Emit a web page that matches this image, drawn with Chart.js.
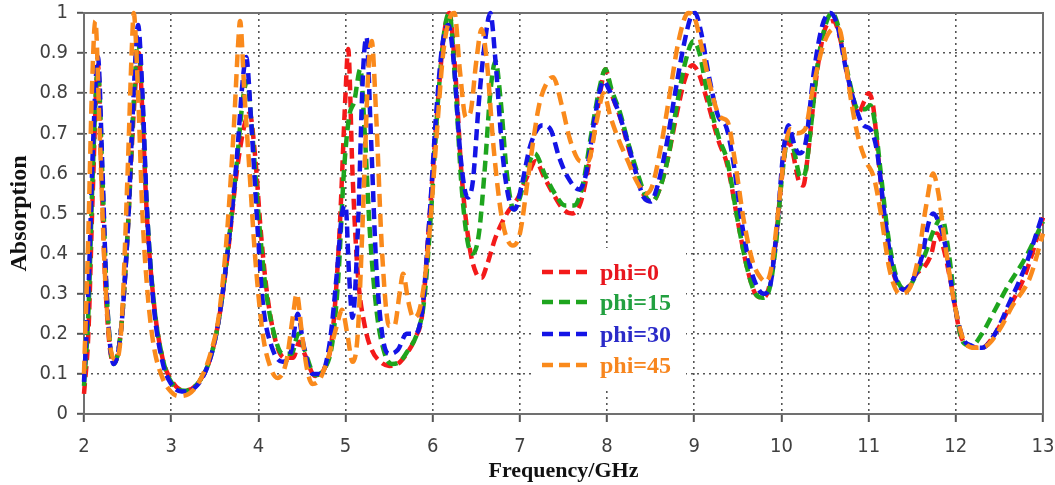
<!DOCTYPE html>
<html>
<head>
<meta charset="utf-8">
<script src="https://cdn.jsdelivr.net/npm/chart.js@4.4.1/dist/chart.umd.min.js"></script>
<style>
  html, body { margin: 0; padding: 0; background: #ffffff; }
  canvas { display: block; }
</style>
</head>
<body>
<canvas id="absorptionChart" width="1055" height="485"></canvas>
<script>
// Absorption spectra for four polarization angles
const seriesLabels = ['phi=0', 'phi=15', 'phi=30', 'phi=45'];

const freqPhi0 = [2.00,2.05,2.10,2.16,2.20,2.25,2.34,2.42,2.50,2.57,2.63,2.67,2.72,2.80,2.90,3.00,3.15,3.30,3.45,3.55,3.65,3.75,3.84,3.90,3.96,4.03,4.10,4.20,4.30,4.40,4.47,4.53,4.65,4.75,4.85,4.93,5.00,5.03,5.08,5.14,5.22,5.30,5.40,5.50,5.60,5.70,5.80,5.88,5.95,6.05,6.12,6.19,6.26,6.33,6.42,6.50,6.56,6.62,6.72,6.85,6.98,7.10,7.18,7.28,7.38,7.50,7.60,7.70,7.82,7.92,7.98,8.05,8.15,8.25,8.35,8.45,8.52,8.60,8.70,8.80,8.90,8.98,9.05,9.15,9.28,9.38,9.50,9.60,9.70,9.78,9.85,9.93,10.00,10.07,10.12,10.20,10.25,10.30,10.40,10.50,10.60,10.68,10.78,10.88,10.95,11.00,11.05,11.12,11.20,11.30,11.42,11.55,11.65,11.72,11.78,11.85,11.95,12.05,12.15,12.30,12.45,12.60,12.80,13.00];
const absPhi0 = [0.05,0.20,0.55,0.87,0.60,0.30,0.125,0.20,0.45,0.75,0.90,0.75,0.50,0.28,0.14,0.085,0.058,0.075,0.14,0.24,0.40,0.60,0.72,0.75,0.65,0.45,0.30,0.18,0.14,0.14,0.18,0.15,0.095,0.11,0.20,0.45,0.80,0.91,0.60,0.35,0.22,0.16,0.13,0.12,0.125,0.15,0.19,0.25,0.45,0.75,0.93,1.00,0.85,0.60,0.42,0.35,0.34,0.37,0.44,0.50,0.54,0.60,0.63,0.59,0.55,0.51,0.50,0.53,0.66,0.80,0.86,0.80,0.74,0.66,0.59,0.535,0.53,0.56,0.64,0.75,0.84,0.87,0.85,0.78,0.68,0.62,0.48,0.37,0.30,0.29,0.31,0.42,0.58,0.68,0.66,0.58,0.57,0.64,0.84,0.96,0.98,0.93,0.82,0.75,0.78,0.80,0.77,0.62,0.45,0.34,0.31,0.35,0.37,0.40,0.45,0.42,0.32,0.20,0.17,0.165,0.20,0.26,0.35,0.49];

const freqPhi15 = [2.00,2.05,2.10,2.16,2.21,2.26,2.34,2.42,2.50,2.57,2.62,2.67,2.72,2.80,2.90,3.00,3.15,3.30,3.45,3.55,3.65,3.75,3.82,3.87,3.93,4.00,4.08,4.18,4.28,4.38,4.46,4.53,4.65,4.75,4.85,4.92,4.98,5.04,5.10,5.17,5.22,5.28,5.36,5.45,5.53,5.62,5.72,5.82,5.90,5.98,6.06,6.13,6.19,6.26,6.33,6.40,6.46,6.53,6.60,6.66,6.72,6.78,6.85,6.93,7.00,7.08,7.17,7.28,7.40,7.52,7.62,7.72,7.82,7.92,7.98,8.05,8.15,8.25,8.35,8.45,8.52,8.60,8.70,8.80,8.90,8.99,9.06,9.15,9.28,9.38,9.50,9.60,9.70,9.78,9.86,9.94,10.01,10.08,10.14,10.22,10.27,10.33,10.42,10.52,10.58,10.66,10.76,10.88,10.96,11.02,11.07,11.14,11.22,11.32,11.43,11.55,11.65,11.75,11.84,11.92,12.00,12.08,12.18,12.30,12.45,12.60,12.80,13.00];
const absPhi15 = [0.07,0.25,0.60,0.86,0.60,0.30,0.125,0.20,0.45,0.78,0.93,0.78,0.52,0.28,0.14,0.08,0.058,0.075,0.14,0.24,0.41,0.62,0.78,0.83,0.70,0.50,0.32,0.20,0.15,0.15,0.20,0.16,0.097,0.11,0.18,0.35,0.60,0.74,0.78,0.86,0.70,0.45,0.25,0.15,0.125,0.13,0.16,0.20,0.28,0.50,0.78,0.95,1.00,0.82,0.57,0.43,0.40,0.45,0.62,0.80,0.88,0.78,0.60,0.51,0.54,0.61,0.65,0.60,0.55,0.52,0.52,0.57,0.70,0.82,0.86,0.81,0.75,0.67,0.60,0.54,0.53,0.56,0.64,0.77,0.88,0.93,0.90,0.80,0.69,0.63,0.48,0.37,0.30,0.29,0.31,0.43,0.60,0.69,0.66,0.59,0.60,0.70,0.88,0.98,1.00,0.96,0.85,0.76,0.76,0.77,0.73,0.60,0.45,0.34,0.31,0.35,0.40,0.46,0.49,0.40,0.26,0.18,0.17,0.20,0.26,0.32,0.39,0.48];

const freqPhi30 = [2.00,2.05,2.10,2.16,2.21,2.26,2.34,2.42,2.50,2.57,2.62,2.67,2.72,2.80,2.90,3.00,3.12,3.30,3.45,3.55,3.65,3.75,3.82,3.86,3.92,3.98,4.05,4.15,4.28,4.38,4.45,4.52,4.62,4.72,4.82,4.90,4.96,5.00,5.04,5.08,5.14,5.20,5.24,5.29,5.35,5.42,5.50,5.60,5.70,5.80,5.88,5.96,6.04,6.11,6.18,6.24,6.32,6.40,6.46,6.53,6.60,6.66,6.72,6.80,6.88,6.94,7.02,7.12,7.26,7.35,7.45,7.55,7.68,7.76,7.86,7.96,8.02,8.12,8.22,8.32,8.42,8.50,8.58,8.68,8.78,8.88,8.96,9.01,9.08,9.17,9.28,9.36,9.44,9.55,9.65,9.74,9.80,9.87,9.95,10.02,10.08,10.15,10.20,10.28,10.37,10.47,10.56,10.64,10.74,10.86,10.94,11.02,11.10,11.18,11.27,11.40,11.52,11.62,11.68,11.74,11.80,11.88,11.98,12.08,12.18,12.30,12.45,12.60,12.80,13.00];
const absPhi30 = [0.08,0.30,0.65,0.89,0.62,0.30,0.125,0.20,0.45,0.80,0.97,0.80,0.52,0.27,0.13,0.075,0.056,0.072,0.14,0.24,0.41,0.63,0.83,0.89,0.72,0.50,0.28,0.17,0.13,0.16,0.25,0.17,0.10,0.10,0.18,0.35,0.50,0.52,0.35,0.24,0.45,0.85,0.94,0.70,0.38,0.20,0.15,0.16,0.20,0.20,0.26,0.48,0.75,0.92,0.97,0.88,0.64,0.54,0.58,0.78,0.93,1.00,0.88,0.65,0.53,0.51,0.57,0.67,0.72,0.71,0.64,0.59,0.56,0.60,0.74,0.83,0.81,0.76,0.69,0.61,0.54,0.53,0.57,0.67,0.80,0.92,0.99,1.00,0.95,0.84,0.74,0.72,0.64,0.47,0.36,0.31,0.30,0.32,0.47,0.65,0.72,0.67,0.65,0.68,0.85,0.97,1.00,0.97,0.86,0.76,0.72,0.71,0.65,0.50,0.37,0.31,0.34,0.40,0.47,0.50,0.48,0.42,0.28,0.19,0.17,0.165,0.20,0.27,0.37,0.50];

const freqPhi45 = [2.00,2.05,2.09,2.13,2.18,2.24,2.30,2.37,2.43,2.50,2.55,2.57,2.62,2.67,2.73,2.80,2.90,3.00,3.08,3.20,3.32,3.45,3.55,3.64,3.72,3.77,3.79,3.84,3.90,3.96,4.05,4.15,4.22,4.32,4.40,4.44,4.50,4.56,4.62,4.70,4.80,4.90,4.96,5.02,5.08,5.14,5.20,5.26,5.30,5.35,5.42,5.50,5.56,5.62,5.66,5.72,5.78,5.86,5.95,6.04,6.12,6.20,6.25,6.31,6.38,6.43,6.50,6.56,6.62,6.70,6.80,6.92,7.00,7.10,7.22,7.32,7.38,7.48,7.58,7.70,7.78,7.88,7.96,8.04,8.14,8.24,8.34,8.45,8.52,8.62,8.72,8.82,8.93,9.00,9.08,9.18,9.30,9.38,9.46,9.57,9.67,9.76,9.82,9.88,9.96,10.04,10.10,10.18,10.27,10.36,10.48,10.60,10.66,10.72,10.80,10.88,10.97,11.06,11.14,11.24,11.36,11.46,11.56,11.66,11.74,11.80,11.88,11.98,12.10,12.22,12.35,12.50,12.65,12.85,13.00];
const absPhi45 = [0.10,0.45,0.80,0.98,0.70,0.35,0.17,0.135,0.22,0.60,0.92,1.00,0.80,0.50,0.30,0.17,0.09,0.055,0.045,0.05,0.08,0.15,0.25,0.45,0.72,0.93,0.98,0.80,0.60,0.40,0.20,0.11,0.09,0.13,0.25,0.30,0.20,0.11,0.075,0.085,0.14,0.22,0.26,0.20,0.13,0.20,0.50,0.85,0.93,0.75,0.40,0.22,0.22,0.30,0.35,0.28,0.24,0.27,0.42,0.68,0.90,0.99,1.00,0.86,0.74,0.75,0.88,0.96,0.88,0.66,0.48,0.42,0.45,0.60,0.77,0.83,0.84,0.77,0.68,0.63,0.63,0.73,0.80,0.74,0.68,0.63,0.58,0.55,0.57,0.67,0.80,0.93,1.00,0.99,0.92,0.82,0.74,0.73,0.64,0.48,0.38,0.34,0.33,0.36,0.50,0.66,0.71,0.70,0.71,0.81,0.92,0.96,0.96,0.90,0.78,0.69,0.63,0.59,0.50,0.36,0.30,0.31,0.38,0.52,0.60,0.55,0.42,0.28,0.18,0.165,0.17,0.21,0.27,0.34,0.45];

const xTickLabels = ['2','3','4','5','6','7','8','9','10','11','12','13'];
const yTickLabels = ['0','0.1','0.2','0.3','0.4','0.5','0.6','0.7','0.8','0.9','1'];

const lineColors = ['#f41a1a', '#1ea51e', '#1414e6', '#fa8a1c'];
const legendTextColors = ['#e8161e', '#22a040', '#2a2ac8', '#f7861f'];

const seriesFreq = [freqPhi0, freqPhi15, freqPhi30, freqPhi45];
const seriesAbs = [absPhi0, absPhi15, absPhi30, absPhi45];

function toPoints(fs, vs) {
  return fs.map((f, i) => ({ x: f, y: vs[i] }));
}

const datasets = seriesLabels.map((label, i) => ({
  label: label,
  data: toPoints(seriesFreq[i], seriesAbs[i]),
  borderColor: lineColors[i],
  backgroundColor: lineColors[i],
  borderWidth: 4.5,
  borderDash: i === 3 ? [13, 7] : [11, 6],
  borderCapStyle: 'butt',
  borderJoinStyle: 'round',
  cubicInterpolationMode: 'monotone',
  pointRadius: 0,
  fill: false,
  clip: false,
  order: 4 - i
}));

const tickFont = { family: '"Liberation Sans Narrow", "DejaVu Sans Condensed", "DejaVu Sans", sans-serif', size: 20 };
const serifFamily = '"Liberation Serif", "Times New Roman", serif';

// outer frame of the plotting area, drawn under the curves
const frameBox = {
  id: 'frameBox',
  beforeDatasetsDraw(chart) {
    const { ctx, chartArea: a } = chart;
    ctx.save();
    ctx.strokeStyle = '#707070';
    ctx.lineWidth = 2;
    ctx.strokeRect(a.left, a.top, a.right - a.left, a.bottom - a.top);
    ctx.restore();
  }
};

// legend placed inside the plotting area
const innerLegend = {
  id: 'innerLegend',
  afterDraw(chart) {
    const { ctx } = chart;
    ctx.save();
    ctx.fillStyle = '#ffffff';
    ctx.fillRect(533, 248, 153, 141);
    const rows = [272, 302, 334, 365];
    chart.data.datasets.forEach((ds, i) => {
      const y = rows[i];
      ctx.strokeStyle = ds.borderColor;
      ctx.lineWidth = 4.5;
      ctx.setLineDash([11, 6]);
      ctx.beginPath();
      ctx.moveTo(542, y);
      ctx.lineTo(588, y);
      ctx.stroke();
      ctx.setLineDash([]);
      ctx.fillStyle = legendTextColors[i];
      ctx.font = 'bold 24px ' + serifFamily;
      ctx.textBaseline = 'middle';
      ctx.textAlign = 'left';
      ctx.fillText(ds.label, 600, y + 2);
    });
    ctx.restore();
  }
};

new Chart(document.getElementById('absorptionChart'), {
  type: 'line',
  data: { datasets: datasets },
  options: {
    responsive: false,
    animation: false,
    devicePixelRatio: 1,
    layout: { padding: { left: 0, top: 13, right: 12, bottom: 0 } },
    plugins: {
      legend: { display: false },
      tooltip: { enabled: false }
    },
    scales: {
      x: {
        type: 'linear',
        min: 2,
        max: 13,
        afterFit(scale) {
          scale.height = 71;
          scale.paddingLeft = 0;
          scale.paddingRight = 0;
        },
        ticks: {
          stepSize: 1,
          color: '#404040',
          font: tickFont,
          padding: 13,
          maxRotation: 0,
          callback: (v) => xTickLabels[Math.round(v) - 2]
        },
        grid: {
          color: '#555555',
          lineWidth: 1.6,
          tickLength: 8,
          tickColor: '#555555',
          tickWidth: 2,
          tickBorderDash: []
        },
        border: { display: true, color: '#6a6a6a', width: 2, dash: [2, 4] },
        title: {
          display: true,
          text: 'Frequency/GHz',
          color: '#111111',
          font: { family: serifFamily, size: 22, weight: 'bold' },
          padding: { top: -3, bottom: 0 }
        }
      },
      y: {
        type: 'linear',
        min: 0,
        max: 1,
        afterFit(scale) {
          scale.width = 84;
          scale.paddingTop = 0;
          scale.paddingBottom = 0;
        },
        ticks: {
          stepSize: 0.1,
          color: '#404040',
          font: tickFont,
          padding: 9,
          callback: (v) => yTickLabels[Math.round(v * 10)]
        },
        grid: {
          color: '#555555',
          lineWidth: 1.6,
          tickLength: 7,
          tickColor: '#555555',
          tickWidth: 2,
          tickBorderDash: []
        },
        border: { display: true, color: '#6a6a6a', width: 2, dash: [2, 4] },
        title: {
          display: true,
          text: 'Absorption',
          color: '#111111',
          font: { family: serifFamily, size: 24, weight: 'bold' },
          padding: { top: 5, bottom: 0 }
        }
      }
    }
  },
  plugins: [frameBox, innerLegend]
});
</script>
</body>
</html>
